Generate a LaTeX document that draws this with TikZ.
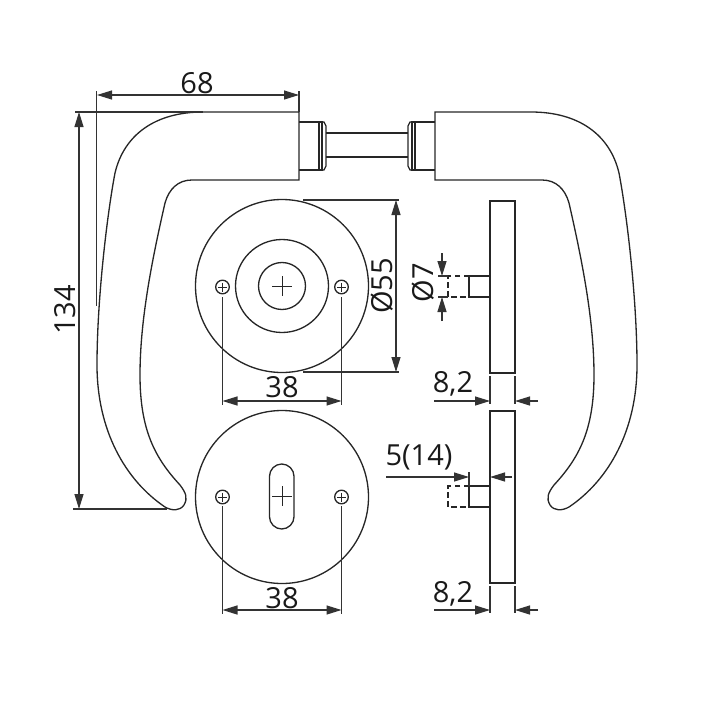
\documentclass[tikz,border=0pt]{standalone}
\usepackage{fontspec}
\setsansfont{Open Sans}
\usepackage{tikz}
\usetikzlibrary{arrows.meta, positioning, calc}

\tikzset{
  part/.style={line width=0.75pt, black!85},
  dimline/.style={line width=0.7pt, black!80},
  dimarrow/.style={dimline, -{Triangle[length=3mm, width=1.8mm]}},
  dimboth/.style={dimline, {Triangle[length=3mm, width=1.8mm]}-{Triangle[length=3mm, width=1.8mm]}},
  hidden/.style={part, dash pattern=on 1.1mm off 0.7mm},
  dimtext/.style={inner sep=0pt, font=\sffamily\fontsize{16.5}{18}\selectfont, text=black!90},
}

\newcommand{\handleoutline}{
  \draw[part] (299,112) -- (203,112) .. controls (155,112) and (124,135) .. (115,173)
    .. controls (107,215) and (97,300) .. (97,365)
    .. controls (97,430) and (125,480) .. (165,507)
    .. controls (172,511) and (180,511) .. (184,505)
    .. controls (188,498) and (186,493) .. (180,485)
    .. controls (155,458) and (140,430) .. (140,375)
    .. controls (140,320) and (152,260) .. (165,203)
    .. controls (169,189) and (178,180) .. (192,180)
    -- (299,180) -- cycle;
  \draw[part] (299,122) -- (319,122) -- (319,170) -- (299,170);
  \draw[part] (319,122) -- (322,122) -- (322,170) -- (319,170);
  \draw[part] (322,122) -- (324,122) -- (326,126) -- (326,166) -- (324,170) -- (322,170);
}
\newcommand{\screw}[2]{
  \draw[part] (#1,#2) circle (6.8);
  \draw[part, line width=0.5pt] (#1-4.5,#2) -- (#1+4.5,#2) (#1,#2-4.5) -- (#1,#2+4.5);
}
\newcommand{\sideview}[2]{
  % plate and stem
  \draw[part] (490,#1) rectangle (515,#2);
  \draw[part] (490,#1+75) -- (469,#1+75) -- (469,#1+96) -- (490,#1+96);
  \draw[hidden] (469,#1+75) -- (448,#1+75) -- (448,#1+96) -- (469,#1+96);
}

\begin{document}
\begin{tikzpicture}[x=0.2mm, y=-0.2mm]
\useasboundingbox (0,0) rectangle (711,711);

% handles and spindle
\handleoutline
\begin{scope}[shift={(734,0)}, xscale=-1]
\handleoutline
\end{scope}
\draw[part] (326,133) -- (408,133) (326,157) -- (408,157);

% upper rose
\draw[part] (282,286) circle (86.5);
\draw[part] (282,286) circle (46.5);
\draw[part] (282,286) circle (23.5);
\draw[part, line width=0.5pt] (272,286) -- (292,286) (282,276) -- (282,296);
\screw{222.5}{287}
\screw{341.5}{287}

% lower rose
\draw[part] (282,497) circle (86.5);
\draw[part, rounded corners=12.3*0.2mm] (269.5,464) rectangle (294,529);
\draw[part, line width=0.5pt] (272,496) -- (292,496) (282,486) -- (282,506);
\screw{222.5}{497}
\screw{341.5}{497}

% side views
\sideview{201}{373}
\sideview{411}{583}

% dimension 68
\coordinate (a68) at (97,95);
\coordinate (b68) at (299,95);
\draw[dimboth] (a68) -- (b68);
\node[dimtext] (t68) at (197,83) {68};
\draw[dimline] (96.5,91) -- (96.5,306) (299,91) -- (299,112);

% dimension 134
\coordinate (a134) at (79,112);
\coordinate (b134) at (79,509);
\draw[dimboth] (a134) -- (b134);
\node[dimtext, rotate=90] (t134) at (65,310) {134};
\draw[dimline] (75,112) -- (203,112) (73,509) -- (167,509);

% dimension diameter 55
\coordinate (a55) at (396,200);
\coordinate (b55) at (396,372);
\draw[dimboth] (a55) -- (b55);
\node[dimtext, rotate=90] (t55) at (382,286) {Ø55};
\draw[dimline] (303,200) -- (399,200) (303,372) -- (399,372);

% dimension diameter 7
\coordinate (a7) at (442,253);
\coordinate (b7) at (442,276);
\coordinate (c7) at (442,321);
\coordinate (d7) at (442,297);
\draw[dimarrow] (a7) -- (b7);
\draw[dimarrow] (c7) -- (d7);
\node[dimtext, rotate=90] (t7) at (423,283) {Ø7};
\draw[dimline] (438,276) -- (448,276) (438,297) -- (448,297);

% dimensions 38
\coordinate (a38) at (222.5,401);
\coordinate (b38) at (341.5,401);
\draw[dimboth] (a38) -- (b38);
\node[dimtext] (t38) at (282,387) {38};
\draw[dimline] (222.5,297) -- (222.5,405) (341.5,297) -- (341.5,405);
\coordinate (c38) at (222.5,610);
\coordinate (d38) at (341.5,610);
\draw[dimboth] (c38) -- (d38);
\node[dimtext] (u38) at (282,598) {38};
\draw[dimline] (222.5,506) -- (222.5,614) (341.5,506) -- (341.5,614);

% dimensions 8,2
\coordinate (a82) at (434,401);
\coordinate (b82) at (490,401);
\coordinate (c82) at (538,401);
\coordinate (d82) at (515,401);
\draw[dimarrow] (a82) -- (b82);
\draw[dimarrow] (c82) -- (d82);
\node[dimtext] (t82) at (453,384) {8,2};
\draw[dimline] (490,376) -- (490,404) (515,376) -- (515,404);
\coordinate (e82) at (434,610);
\coordinate (f82) at (490,610);
\coordinate (g82) at (538,610);
\coordinate (h82) at (515,610);
\draw[dimarrow] (e82) -- (f82);
\draw[dimarrow] (g82) -- (h82);
\node[dimtext] (u82) at (453,594) {8,2};
\draw[dimline] (490,586) -- (490,613) (515,586) -- (515,613);

% dimension 5(14)
\coordinate (a514) at (386,477);
\coordinate (b514) at (469,477);
\coordinate (c514) at (512,477);
\coordinate (d514) at (490,477);
\draw[dimarrow] (a514) -- (b514);
\draw[dimarrow] (c514) -- (d514);
\node[dimtext] (t514) at (419,457) {5(14)};
\draw[dimline] (469,472) -- (469,486);
\end{tikzpicture}
\end{document}
